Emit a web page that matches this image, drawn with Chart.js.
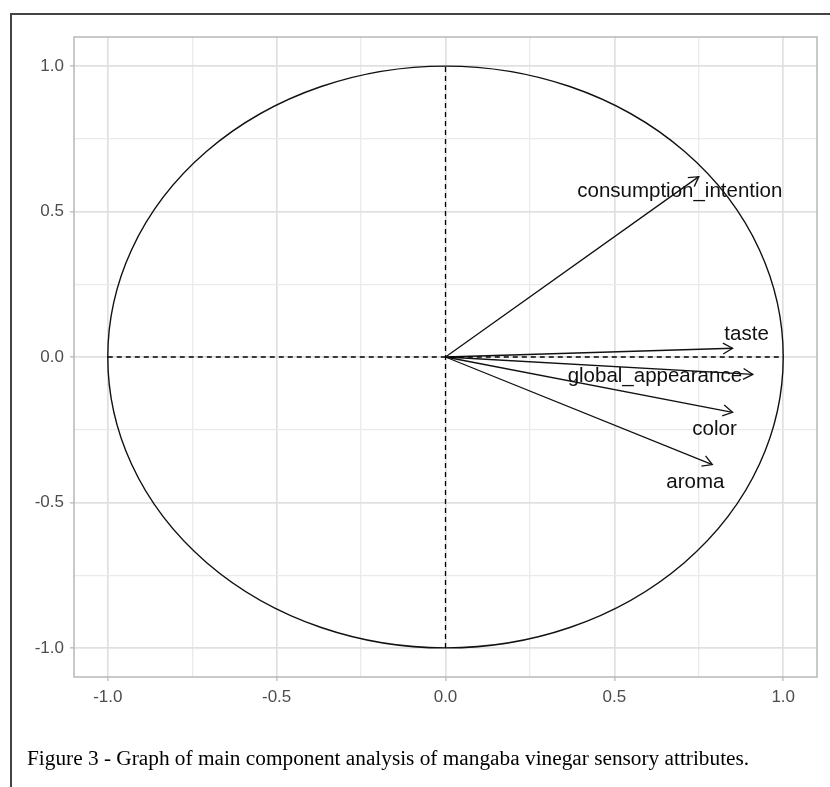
<!DOCTYPE html>
<html>
<head>
<meta charset="utf-8">
<script src="https://cdn.jsdelivr.net/npm/chart.js@4"></script>
<style>
  html, body { margin: 0; padding: 0; background: #fff; }
  #wrap { position: relative; width: 830px; height: 787px; overflow: hidden; }
  #frame { position: absolute; left: 10px; top: 13px; width: 830px; height: 800px;
           border-top: 2px solid #444; border-left: 2px solid #444; box-sizing: border-box; }
  canvas { position: absolute; left: 0; top: 0; }
  #caption { position: absolute; left: 27px; top: 748px; font-family: "Liberation Serif", "Times New Roman", serif;
             font-size: 21.3px; line-height: 21px; color: #000; white-space: nowrap; }
</style>
</head>
<body>
<div id="wrap">
  <div id="frame"></div>
  <canvas id="c" width="830" height="787"></canvas>
  <div id="caption">Figure 3 - Graph of main component analysis of mangaba vinegar sensory attributes.</div>
</div>
<script>
// ---- data ----
const variables = ['consumption_intention', 'taste', 'global_appearance', 'color', 'aroma'];
const dim1 = [0.75, 0.85, 0.91, 0.85, 0.79];
const dim2 = [0.62, 0.03, -0.06, -0.19, -0.37];
const majorTicks = [-1.0, -0.5, 0.0, 0.5, 1.0];
const minorTicks = [-0.75, -0.25, 0.25, 0.75];
const axisLimits = [-1.1, 1.1];

// ---- layout / style (not data) ----
const labelOffsets = {
  consumption_intention: [-19, 15],
  taste: [14, -14],
  global_appearance: [-98, 2],
  color: [-18, 17],
  aroma: [-17, 18]
};

const allTicks = majorTicks.concat(minorTicks).sort((a, b) => a - b);
const isMajor = v => majorTicks.some(m => Math.abs(m - v) < 1e-9);

const datasets = [];
// reference dashed axes
datasets.push({
  label: 'hline', data: [{x: -1, y: 0}, {x: 1, y: 0}], showLine: true,
  borderColor: '#000', borderWidth: 1.3, borderDash: [5, 4], pointRadius: 0, isRef: true
});
datasets.push({
  label: 'vline', data: [{x: 0, y: -1}, {x: 0, y: 1}], showLine: true,
  borderColor: '#000', borderWidth: 1.3, borderDash: [5, 4], pointRadius: 0, isRef: true
});
variables.forEach((v, i) => {
  datasets.push({
    label: v, data: [{x: 0, y: 0}, {x: dim1[i], y: dim2[i]}], showLine: true,
    borderColor: '#111', borderWidth: 1.3, pointRadius: 0, isArrow: true
  });
});

const circlePlugin = {
  id: 'circle',
  beforeDatasetsDraw(chart) {
    const {ctx, scales: {x, y}} = chart;
    const cx = x.getPixelForValue(0), cy = y.getPixelForValue(0);
    const rx = x.getPixelForValue(1) - cx, ry = cy - y.getPixelForValue(1);
    ctx.save();
    ctx.strokeStyle = '#111';
    ctx.lineWidth = 1.4;
    ctx.beginPath();
    ctx.ellipse(cx, cy, rx, ry, 0, 0, Math.PI * 2);
    ctx.stroke();
    ctx.restore();
  }
};

const arrowPlugin = {
  id: 'arrows',
  afterDatasetsDraw(chart) {
    const ctx = chart.ctx;
    chart.data.datasets.forEach((ds, di) => {
      if (!ds.isArrow) return;
      const meta = chart.getDatasetMeta(di);
      const p0 = meta.data[0], p1 = meta.data[1];
      const ang = Math.atan2(p1.y - p0.y, p1.x - p0.x);
      const L = 11, a = Math.PI / 6;
      ctx.save();
      ctx.strokeStyle = '#111';
      ctx.lineWidth = 1.3;
      ctx.beginPath();
      ctx.moveTo(p1.x - L * Math.cos(ang - a), p1.y - L * Math.sin(ang - a));
      ctx.lineTo(p1.x, p1.y);
      ctx.lineTo(p1.x - L * Math.cos(ang + a), p1.y - L * Math.sin(ang + a));
      ctx.stroke();
      const off = labelOffsets[ds.label] || [0, 0];
      ctx.fillStyle = '#111';
      ctx.font = '20.5px "Liberation Sans", Arial, sans-serif';
      ctx.textAlign = 'center';
      ctx.textBaseline = 'middle';
      ctx.fillText(ds.label, p1.x + off[0], p1.y + off[1]);
      ctx.restore();
    });
    // panel border
    const ca = chart.chartArea;
    ctx.save();
    ctx.strokeStyle = '#b8b8b8';
    ctx.lineWidth = 1.5;
    ctx.strokeRect(ca.left, ca.top, ca.right - ca.left, ca.bottom - ca.top);
    ctx.restore();
  }
};

const tickFont = {family: '"Liberation Sans", Arial, sans-serif', size: 17};
function axisCfg(fitFn) {
  return {
    type: 'linear', min: axisLimits[0], max: axisLimits[1],
    afterBuildTicks: s => { s.ticks = allTicks.map(v => ({value: v})); },
    afterFit: fitFn,
    ticks: {
      autoSkip: false, color: '#4d4d4d', font: tickFont, padding: 6,
      callback: v => isMajor(v) ? Number(v).toFixed(1) : ''
    },
    grid: {
      color: c => (c.tick && isMajor(c.tick.value)) ? '#e0e0e0' : '#eaeaea',
      lineWidth: c => (c.tick && isMajor(c.tick.value)) ? 1.7 : 1.3,
      tickColor: c => (c.tick && isMajor(c.tick.value)) ? '#b3b3b3' : 'rgba(0,0,0,0)',
      tickLength: 4, tickWidth: 1.2
    },
    border: {display: false}
  };
}

new Chart(document.getElementById('c'), {
  type: 'scatter',
  data: {datasets},
  options: {
    responsive: false, animation: false, devicePixelRatio: 1,
    layout: {padding: {left: 0, top: 37, right: 13, bottom: 70}},
    plugins: {legend: {display: false}, tooltip: {enabled: false}},
    scales: {
      x: axisCfg(s => { s.height = 40; }),
      y: axisCfg(s => { s.width = 74; })
    }
  },
  plugins: [circlePlugin, arrowPlugin]
});
</script>
</body>
</html>
